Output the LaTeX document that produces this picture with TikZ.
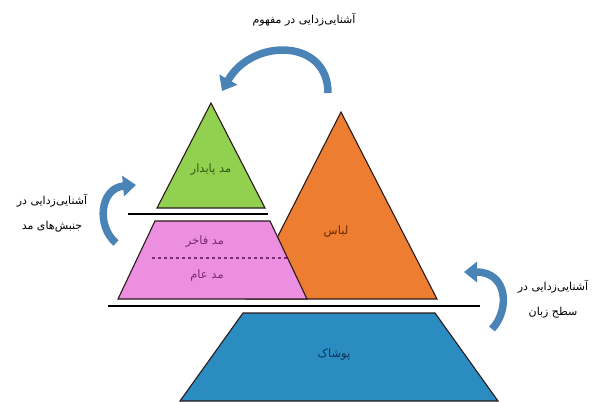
\documentclass[tikz,border=0pt]{standalone}
\usepackage{fontspec}
\usetikzlibrary{arrows.meta}
\TeXXeTstate=1
\newfontfamily\arabicfont[Script=Arabic]{DejaVu Sans}
\definecolor{greenF}{HTML}{92D050}
\definecolor{greenT}{HTML}{2F5A12}
\definecolor{pinkF}{HTML}{EC8FE0}
\definecolor{pinkT}{HTML}{7A2A70}
\definecolor{orangeF}{HTML}{ED7D31}
\definecolor{orangeT}{HTML}{6A2800}
\definecolor{blueF}{HTML}{2A8CC1}
\definecolor{blueT}{HTML}{0E3552}
\definecolor{arrowC}{HTML}{4A84B6}
\definecolor{edgeC}{HTML}{2A1A1A}
\tikzset{
  shapeedge/.style={draw=edgeC, line width=1.1pt, line join=miter},
  sepline/.style={draw=black, line width=1.3pt},
  curvedarrow/.style={draw=arrowC, line width=7.5pt, -{Triangle[width=20pt,length=13pt]}},
  lbl/.style={font=\fontsize{11.5}{13}\selectfont\arabicfont, inner sep=1pt},
  sidelbl/.style={font=\fontsize{11}{25}\selectfont\arabicfont, align=center, inner sep=1pt, text=black}
}
\begin{document}
\begin{tikzpicture}[x=1pt,y=-1pt]
\useasboundingbox (0,0) rectangle (601,401);
\clip (0,0) rectangle (601,401);
\fill[white] (0,0) rectangle (601,401);
% orange triangle (behind pink)
\filldraw[shapeedge, fill=orangeF] (246,299) -- (341,112) -- (437,299) -- cycle;
% pink trapezoid
\filldraw[shapeedge, fill=pinkF] (118,299) -- (155,221) -- (270,221) -- (307,299) -- cycle;
\draw[draw=pinkT, line width=1.1pt, dashed] (152,258) -- (289,258);
% green triangle
\filldraw[shapeedge, fill=greenF] (157,208) -- (211,103) -- (265,208) -- cycle;
% blue trapezoid
\filldraw[shapeedge, fill=blueF] (180,401) -- (243,313) -- (435,313) -- (498,401) -- cycle;
% separator lines
\coordinate (s1a) at (128,214); \coordinate (s1b) at (268,214);
\draw[sepline] (s1a) -- (s1b);
\coordinate (s2a) at (108,306); \coordinate (s2b) at (480,306);
\draw[sepline] (s2a) -- (s2b);
% labels
\node[lbl, text=greenT] (mpaydar) at (211,170) {\beginR مد پایدار\endR};
\node[lbl, text=pinkT] (mfakher) at (205,242) {\beginR مد فاخر\endR};
\node[lbl, text=pinkT] (mam) at (207,276) {\beginR مد عام\endR};
\node[lbl, text=orangeT] (lebas) at (336,232) {\beginR لباس\endR};
\node[lbl, text=blueT] (pushak) at (334,355) {\beginR پوشاک\endR};
% side labels
\node[sidelbl] (ttop) at (304,20) {\beginR آشنایی‌زدایی در مفهوم\endR};
\node[sidelbl] (tleft) at (52,213) {\beginR آشنایی‌زدایی در\endR\\\beginR جنبش‌های مد\endR};
\node[sidelbl] (tright) at (553,299) {\beginR آشنایی‌زدایی در\endR\\\beginR سطح زبان\endR};
% curved arrows
\coordinate (a1s) at (328,93); \coordinate (a1e) at (222,91);
\draw[curvedarrow] (a1s) .. controls (328,38) and (252,38) .. (a1e);
\coordinate (a2s) at (116,243); \coordinate (a2e) at (136,185);
\draw[curvedarrow] (a2s) .. controls (96,226) and (100,188) .. (a2e);
\coordinate (a3s) at (492,329); \coordinate (a3e) at (464,272);
\draw[curvedarrow] (a3s) .. controls (510,310) and (508,272) .. (a3e);
\end{tikzpicture}
\end{document}
